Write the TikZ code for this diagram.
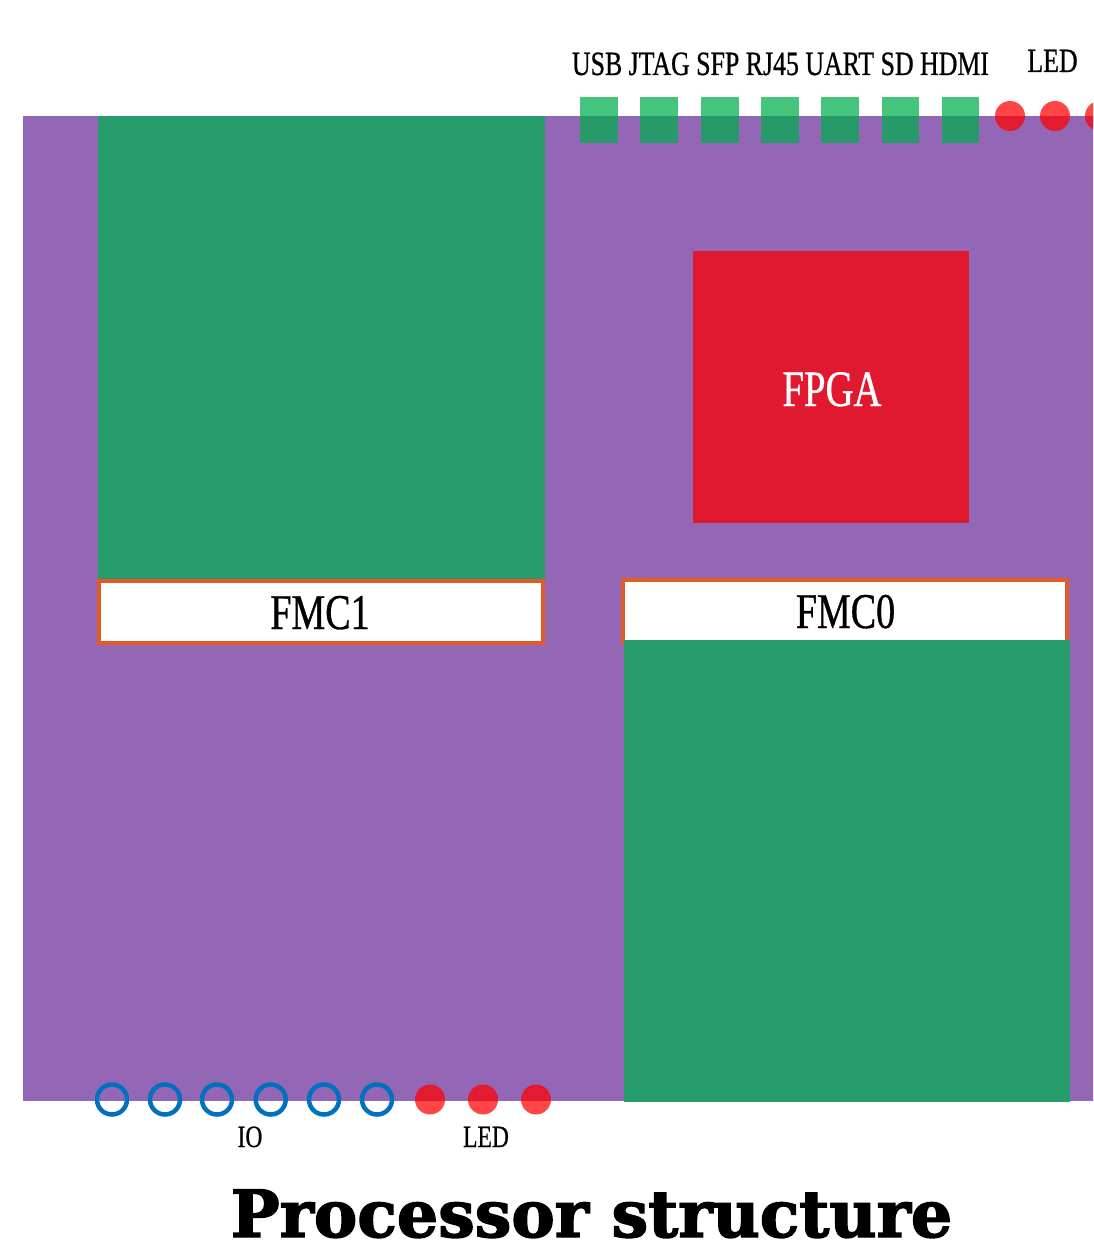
\documentclass[tikz,border=0pt]{standalone}
\usepackage{fontspec}
\setmainfont{Liberation Serif}
\newfontfamily\lblfont[FakeStretch=0.76,FakeBold=0.7]{Liberation Serif}
\newfontfamily\titlefont[FakeBold=2.2]{DejaVu Serif}

\definecolor{boardpurple}{HTML}{9467B6}
\definecolor{fmcgreen}{HTML}{269B6B}
\definecolor{chipred}{HTML}{E0192F}
\definecolor{slotorange}{HTML}{E35B24}
\definecolor{iobblue}{HTML}{0070C0}
\definecolor{portgreen}{RGB}{0,174,78}

\tikzset{
  area/.style={rectangle, inner sep=0pt, outer sep=0pt, anchor=north west},
  board/.style={area, fill=boardpurple},
  card/.style={area, fill=fmcgreen},
  slot/.style={area, fill=white, draw=slotorange, line width=4pt,
               minimum width=444pt, minimum height=62pt},
  chip/.style={area, fill=chipred, minimum width=276pt, minimum height=272pt},
  port/.style={area, fill=portgreen, fill opacity=0.73,
               minimum width=37.5pt, minimum height=46pt},
  led/.style={circle, inner sep=0pt, minimum size=30pt, fill=red, fill opacity=0.73},
  iopin/.style={circle, inner sep=0pt, minimum size=30pt, draw=iobblue, line width=4.5pt},
  lbl/.style={anchor=base, inner sep=0pt, font=\lblfont\fontsize{34}{40}\selectfont},
  slotlbl/.style={anchor=base, inner sep=0pt, font=\lblfont\fontsize{50}{56}\selectfont},
}

\begin{document}
\begin{tikzpicture}[x=1pt,y=-1pt]
\useasboundingbox (0,0) rectangle (1093,1241);
\clip (0,0) rectangle (1093,1241);

% board
\node[board, minimum width=1100pt, minimum height=985pt] (board) at (23,116) {};

% mezzanine cards and their connectors
\node[card, minimum width=447pt, minimum height=463pt] (card1) at (98,116) {};
\node[slot] (fmc1) at (99,581) {};
\node[slotlbl] (fmc1txt) at (320,629) {FMC1};

\node[slot] (fmc0) at (623,580) {};
\node[slotlbl] (fmc0txt) at (845.5,628) {FMC0};
\node[card, minimum width=446pt, minimum height=462pt] (card0) at (624,640) {};

% FPGA
\node[chip] (fpga) at (693,251) {};
\node[slotlbl, text=white, font=\lblfont\fontsize{51}{56}\selectfont] (fpgatxt) at (832,406) {FPGA};

% edge ports
\foreach \i/\x in {1/580.4,2/640.1,3/701,4/761,5/821.3,6/881.5,7/941.8}
  \node[port] (port\i) at (\x,97) {};
\node[lbl] (portnames) at (780.5,75) {USB JTAG SFP RJ45 UART SD HDMI};

% top LEDs
\foreach \i/\x in {1/1010,2/1055,3/1100}
  \node[led] (topled\i) at (\x,116) {};
\node[lbl] (topledtxt) at (1052.5,72) {LED};

% bottom IO pins and LEDs
\foreach \i/\x in {1/112,2/165,3/217,4/270.7,5/324,6/377}
  \node[iopin] (io\i) at (\x,1099.5) {};
\foreach \i/\x in {1/430,2/483,3/536}
  \node[led] (botled\i) at (\x,1099.5) {};
\node[lbl, font=\lblfont\fontsize{31}{36}\selectfont] (iotxt) at (250,1147) {IO};
\node[lbl, font=\lblfont\fontsize{31}{36}\selectfont] (botledtxt) at (486,1147) {LED};

% title
\node[anchor=base, inner sep=0pt, font=\titlefont\bfseries\fontsize{65}{70}\selectfont]
  (title) at (591.5,1237) {Processor structure};
\end{tikzpicture}
\end{document}
